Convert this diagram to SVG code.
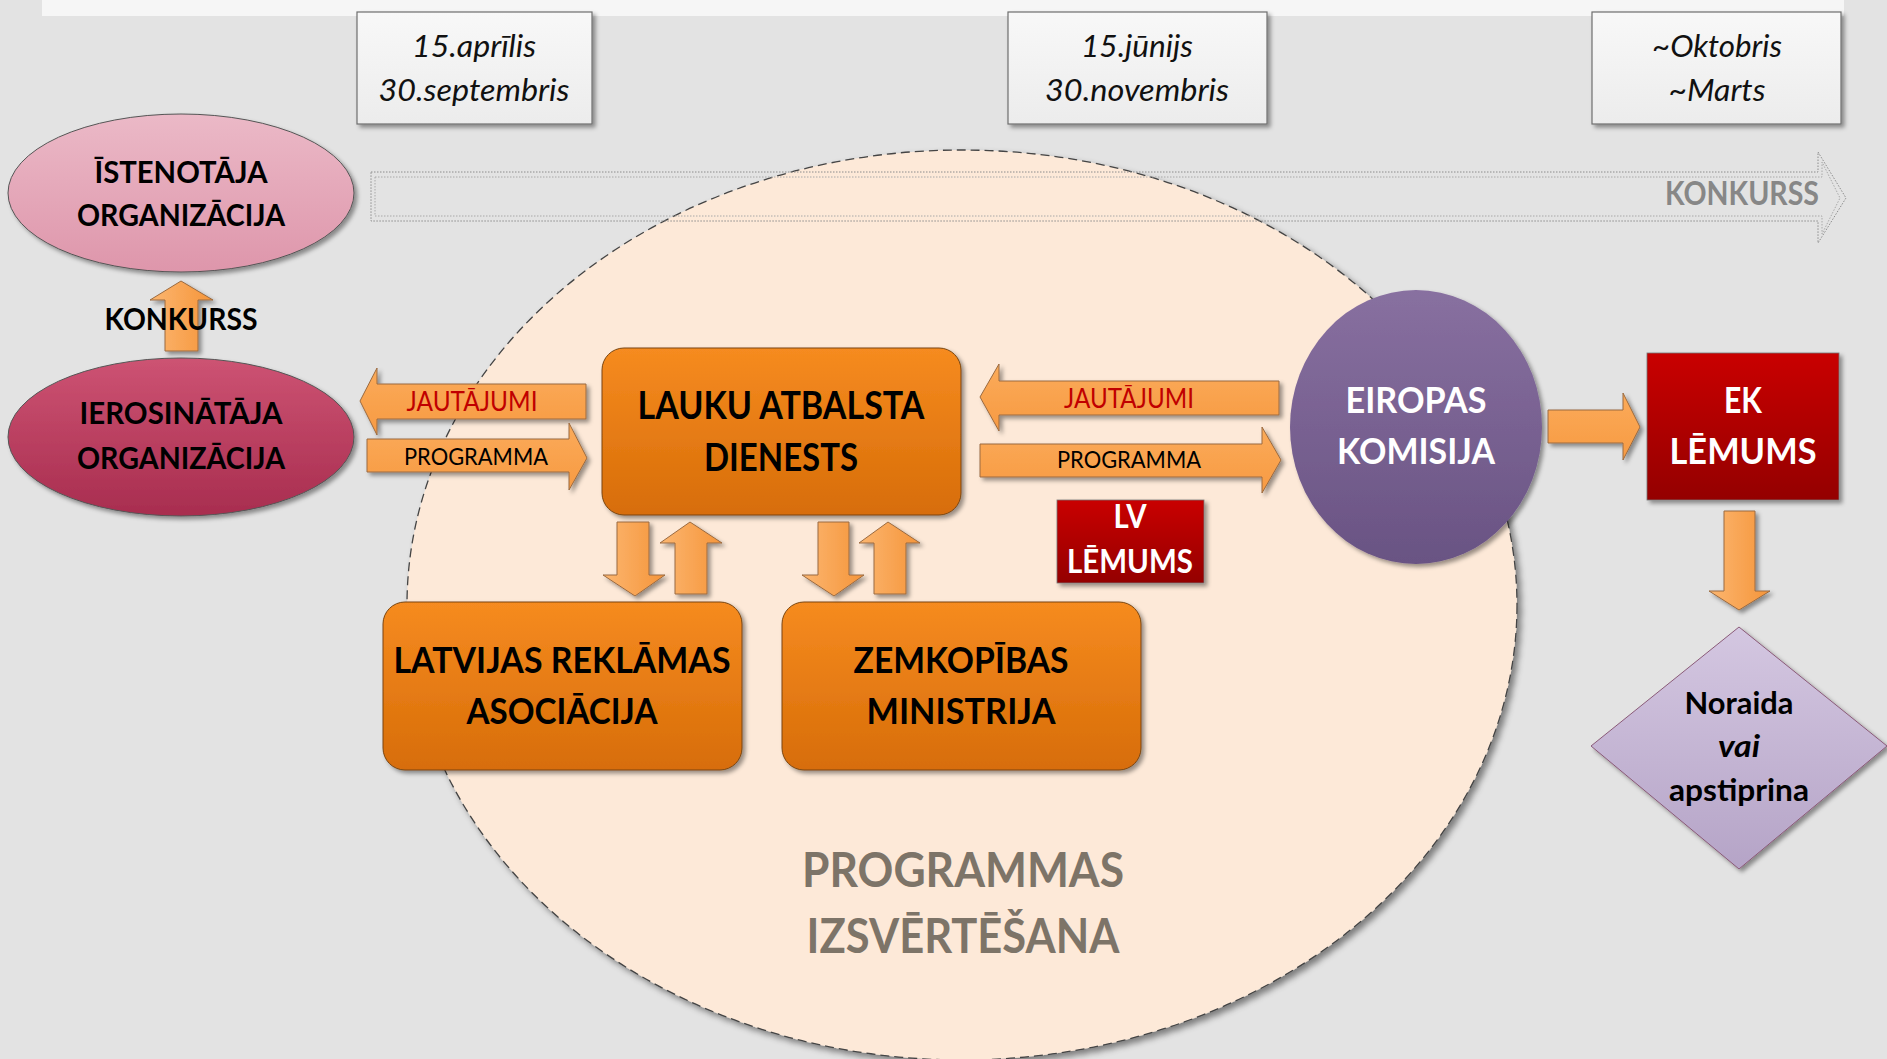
<svg xmlns="http://www.w3.org/2000/svg" width="1887" height="1059" viewBox="0 0 1887 1059">
<style>
text{font-family:Lato,"Open Sans","Liberation Sans",sans-serif;text-anchor:middle}
.b{font-weight:bold;fill:#000}
.w{font-weight:bold;fill:#fff}
.date{font-style:italic;font-size:31px;fill:#111}
.arrH{fill:url(#gArrH);stroke:#9a6a40;stroke-width:1}
.arrV{fill:url(#gArrV);stroke:#9a6a40;stroke-width:1}
.lblR{font-size:27px;fill:#c00000}
.lblB{font-size:24px;fill:#000}
</style>
<defs>
<filter id="sh" x="-10%" y="-10%" width="130%" height="130%"><feDropShadow dx="3" dy="3" stdDeviation="2" flood-color="#000" flood-opacity="0.4"/></filter>
<filter id="shBig" x="-5%" y="-5%" width="115%" height="115%"><feDropShadow dx="4" dy="4" stdDeviation="3" flood-color="#000" flood-opacity="0.45"/></filter>
<linearGradient id="gDate" x1="0" y1="0" x2="0" y2="1"><stop offset="0" stop-color="#f8f8f8"/><stop offset="1" stop-color="#ececec"/></linearGradient>
<linearGradient id="gPink" x1="0" y1="0" x2="0" y2="1"><stop offset="0" stop-color="#ebb9c7"/><stop offset="1" stop-color="#de96ab"/></linearGradient>
<linearGradient id="gCrim" x1="0" y1="0" x2="0" y2="1"><stop offset="0" stop-color="#cd5373"/><stop offset="1" stop-color="#a82d4f"/></linearGradient>
<linearGradient id="gOr" x1="0" y1="0" x2="0" y2="1"><stop offset="0" stop-color="#f68b20"/><stop offset="1" stop-color="#d76d08"/></linearGradient>
<linearGradient id="gRed" x1="0" y1="0" x2="0" y2="1"><stop offset="0" stop-color="#c90000"/><stop offset="1" stop-color="#940000"/></linearGradient>
<linearGradient id="gPur" x1="0" y1="0" x2="0" y2="1"><stop offset="0" stop-color="#8870a0"/><stop offset="1" stop-color="#695383"/></linearGradient>
<linearGradient id="gLav" x1="0" y1="0" x2="0" y2="1"><stop offset="0" stop-color="#d4c7e1"/><stop offset="1" stop-color="#b5a4c7"/></linearGradient>
<linearGradient id="gArrH" x1="0" y1="0" x2="0" y2="1"><stop offset="0" stop-color="#fbab5a"/><stop offset="1" stop-color="#f79a42"/></linearGradient>
<linearGradient id="gArrV" x1="0" y1="0" x2="1" y2="0"><stop offset="0" stop-color="#fcb670"/><stop offset="1" stop-color="#f5953a"/></linearGradient>
</defs>

<rect x="0" y="0" width="1887" height="1059" fill="#e3e3e3"/>
<rect x="42" y="0" width="1802" height="16" fill="#f6f6f6"/>

<g id="izvertesana">
<ellipse cx="962" cy="605" rx="555" ry="455" fill="#fde9d8" stroke="#444" stroke-width="1.3" stroke-dasharray="9 5" filter="url(#shBig)"/>
<text x="963" y="887" textLength="322" lengthAdjust="spacingAndGlyphs" style="font-size:47px;font-weight:bold;fill:#7d7468">PROGRAMMAS</text>
<text x="963" y="953" textLength="313" lengthAdjust="spacingAndGlyphs" style="font-size:47px;font-weight:bold;fill:#7d7468">IZSVĒRTĒŠANA</text>
</g>

<g id="konkurss-band">
<path d="M371,172 H1818 V152 L1846,198 L1818,243 V221 H371 Z" fill="none" stroke="#8c8c8c" stroke-width="1" stroke-dasharray="1.5 1.5"/>
<path d="M375,177 H1822 V162 L1840,198 L1822,234 V216 H375 Z" fill="none" stroke="#a8a8a8" stroke-width="1" stroke-dasharray="1.5 1.5"/>
<text x="1742" y="205" textLength="154" lengthAdjust="spacingAndGlyphs" style="font-size:33px;font-weight:bold;fill:#878787">KONKURSS</text>
</g>

<g id="date1">
<rect x="357" y="12" width="235" height="112" fill="url(#gDate)" stroke="#6e6e6e" stroke-width="1.2" filter="url(#sh)"/>
<text class="date" x="474" y="57" textLength="124" lengthAdjust="spacingAndGlyphs">15.aprīlis</text>
<text class="date" x="474" y="101" textLength="191" lengthAdjust="spacingAndGlyphs">30.septembris</text>
</g>
<g id="date2">
<rect x="1008" y="12" width="259" height="112" fill="url(#gDate)" stroke="#6e6e6e" stroke-width="1.2" filter="url(#sh)"/>
<text class="date" x="1137" y="57" textLength="112" lengthAdjust="spacingAndGlyphs">15.jūnijs</text>
<text class="date" x="1137" y="101" textLength="184" lengthAdjust="spacingAndGlyphs">30.novembris</text>
</g>
<g id="date3">
<rect x="1592" y="12" width="249" height="112" fill="url(#gDate)" stroke="#6e6e6e" stroke-width="1.2" filter="url(#sh)"/>
<text class="date" x="1717" y="57" textLength="130" lengthAdjust="spacingAndGlyphs">~Oktobris</text>
<text class="date" x="1717" y="101" textLength="97" lengthAdjust="spacingAndGlyphs">~Marts</text>
</g>

<g id="istenotaja">
<ellipse cx="181" cy="193" rx="173" ry="79" fill="url(#gPink)" stroke="#555" stroke-width="1" filter="url(#sh)"/>
<text class="b" x="181" y="183" font-size="31" textLength="173" lengthAdjust="spacingAndGlyphs">ĪSTENOTĀJA</text>
<text class="b" x="181" y="226" font-size="31" textLength="208" lengthAdjust="spacingAndGlyphs">ORGANIZĀCIJA</text>
</g>

<g id="ierosinataja">
<ellipse cx="181" cy="437" rx="173" ry="79" fill="url(#gCrim)" stroke="#555" stroke-width="1" filter="url(#sh)"/>
<text class="b" x="181" y="424" font-size="31" textLength="203" lengthAdjust="spacingAndGlyphs">IEROSINĀTĀJA</text>
<text class="b" x="181" y="469" font-size="31" textLength="208" lengthAdjust="spacingAndGlyphs">ORGANIZĀCIJA</text>
</g>

<g id="lad">
<rect x="602" y="348" width="359" height="167" rx="22" fill="url(#gOr)" stroke="#7a4510" stroke-width="1" filter="url(#sh)"/>
<text class="b" x="781" y="419" font-size="38" textLength="287" lengthAdjust="spacingAndGlyphs">LAUKU ATBALSTA</text>
<text class="b" x="781" y="471" font-size="38" textLength="154" lengthAdjust="spacingAndGlyphs">DIENESTS</text>
</g>

<g id="lra">
<rect x="383" y="602" width="359" height="168" rx="22" fill="url(#gOr)" stroke="#7a4510" stroke-width="1" filter="url(#sh)"/>
<text class="b" x="562" y="673" font-size="37" textLength="337" lengthAdjust="spacingAndGlyphs">LATVIJAS REKLĀMAS</text>
<text class="b" x="562" y="724" font-size="37" textLength="191" lengthAdjust="spacingAndGlyphs">ASOCIĀCIJA</text>
</g>

<g id="zm">
<rect x="782" y="602" width="359" height="168" rx="22" fill="url(#gOr)" stroke="#7a4510" stroke-width="1" filter="url(#sh)"/>
<text class="b" x="961" y="673" font-size="37" textLength="215" lengthAdjust="spacingAndGlyphs">ZEMKOPĪBAS</text>
<text class="b" x="961" y="724" font-size="37" textLength="189" lengthAdjust="spacingAndGlyphs">MINISTRIJA</text>
</g>

<g id="lv-lemums">
<rect x="1057" y="500" width="147" height="83" fill="url(#gRed)" stroke="#777" stroke-width="0.8" filter="url(#sh)"/>
<text class="w" x="1130" y="528" font-size="32" textLength="33" lengthAdjust="spacingAndGlyphs">LV</text>
<text class="w" x="1130" y="573" font-size="32" textLength="126" lengthAdjust="spacingAndGlyphs">LĒMUMS</text>
</g>

<g id="eiropas-komisija">
<ellipse cx="1416" cy="427" rx="126" ry="137" fill="url(#gPur)" filter="url(#sh)"/>
<text class="w" x="1416" y="413" font-size="37" textLength="141" lengthAdjust="spacingAndGlyphs">EIROPAS</text>
<text class="w" x="1416" y="464" font-size="37" textLength="158" lengthAdjust="spacingAndGlyphs">KOMISIJA</text>
</g>

<g id="ek-lemums">
<rect x="1647" y="353" width="192" height="147" fill="url(#gRed)" stroke="#777" stroke-width="0.8" filter="url(#sh)"/>
<text class="w" x="1743" y="413" font-size="37" textLength="38" lengthAdjust="spacingAndGlyphs">EK</text>
<text class="w" x="1743" y="464" font-size="37" textLength="147" lengthAdjust="spacingAndGlyphs">LĒMUMS</text>
</g>

<g id="lemums-diamond">
<polygon points="1739,627 1887,746 1739,869 1591,746" fill="url(#gLav)" stroke="#8a5a78" stroke-width="1" filter="url(#sh)"/>
<text class="b" x="1739" y="714" font-size="30" textLength="109" lengthAdjust="spacingAndGlyphs">Noraida</text>
<text class="b" x="1739" y="757" font-size="30" font-style="italic" textLength="42" lengthAdjust="spacingAndGlyphs">vai</text>
<text class="b" x="1739" y="801" font-size="30" textLength="140" lengthAdjust="spacingAndGlyphs">apstiprina</text>
</g>

<g id="connectors">
<g filter="url(#sh)">
<polygon class="arrV" points="165,351 165,300 150,300 181,281 213,300 198,300 198,351"/>
<polygon class="arrH" points="360,401 377,368 377,384 586,384 586,419 377,419 377,435"/>
<polygon class="arrH" points="367,439 569,439 569,423 587,458 569,490 569,472 367,472"/>
<polygon class="arrH" points="980,397 999,364 999,381 1279,381 1279,415 999,415 999,431"/>
<polygon class="arrH" points="980,444 1262,444 1262,427 1281,460 1262,493 1262,477 980,477"/>
<polygon class="arrH" points="1548,410 1623,410 1623,393 1640,427 1623,460 1623,443 1548,443"/>
<polygon class="arrV" points="1724,511 1755,511 1755,591 1770,591 1739,610 1709,591 1724,591"/>
<polygon class="arrV" points="617,522 649,522 649,575 665,575 635,596 603,575 617,575"/>
<polygon class="arrV" points="675,594 675,543 660,543 690,522 722,543 707,543 707,594"/>
<polygon class="arrV" points="818,522 849,522 849,575 864,575 834,596 802,575 818,575"/>
<polygon class="arrV" points="874,594 874,543 859,543 888,522 920,543 906,543 906,594"/>
</g>
<text class="b" x="181" y="330" font-size="30" textLength="153" lengthAdjust="spacingAndGlyphs">KONKURSS</text>
<text class="lblR" x="472" y="411" textLength="131" lengthAdjust="spacingAndGlyphs">JAUTĀJUMI</text>
<text class="lblB" x="476" y="465" textLength="144" lengthAdjust="spacingAndGlyphs">PROGRAMMA</text>
<text class="lblR" x="1129" y="408" textLength="130" lengthAdjust="spacingAndGlyphs">JAUTĀJUMI</text>
<text class="lblB" x="1129" y="468" textLength="144" lengthAdjust="spacingAndGlyphs">PROGRAMMA</text>
</g>
</svg>
